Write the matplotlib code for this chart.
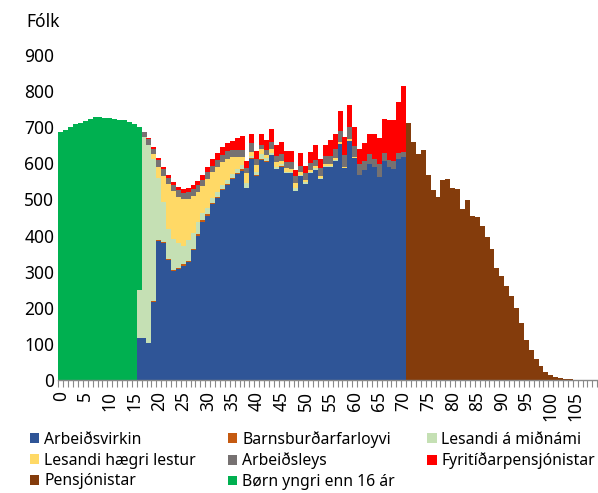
import numpy as np
import matplotlib
matplotlib.use("Agg")
import matplotlib.pyplot as plt
from matplotlib.patches import Patch

plt.rcParams['font.family'] = ['Noto Sans', 'DejaVu Sans']

ages = list(range(0, 110))

# Børn yngri enn 16 ár (ages 0..16)
born = [686, 692, 702, 708, 713, 718, 723, 727, 728, 726, 725, 723, 721, 719, 714, 709, 453]

# ages 16..70
arbeidsvirkin = [115, 115, 103, 217, 386, 380, 332, 303, 307, 317, 326, 360, 400, 438, 455, 487, 503,
                 525, 540, 556, 570, 580, 531, 612, 566, 609, 605, 623, 584, 591, 572, 572, 524, 564,
                 543, 573, 582, 557, 589, 591, 607, 654, 586, 663, 614, 568, 582, 598, 590, 562, 607,
                 590, 584, 611, 617]
barnsburd = [0, 0, 0, 2, 2, 3, 3, 3, 3, 3, 4, 4, 4, 4, 4, 4, 4, 3, 3, 3, 3, 3, 2, 2, 2, 2, 1, 1, 1, 1,
             0, 0, 0, 0, 0, 0, 0, 0, 0, 0, 0, 0, 0, 0, 0, 0, 0, 0, 0, 0, 0, 0, 0, 0, 0]
midnam = [134, 559, 548, 392, 172, 111, 83, 84, 69, 50, 58, 42, 34, 20, 16, 14, 13, 12, 12, 12, 12, 12,
          12, 6, 9, 14, 8, 5, 6, 5, 5, 5, 8, 4, 5, 4, 4, 3, 3, 3, 3, 0, 0, 0, 0, 0, 0, 0, 0, 0, 0,
          0, 0, 0, 0]
haegri = [0, 0, 0, 14, 31, 72, 126, 134, 129, 130, 114, 104, 84, 75, 82, 70, 70, 64, 57, 46, 33, 22,
          28, 12, 18, 14, 8, 10, 12, 10, 10, 8, 14, 8, 6, 5, 6, 6, 5, 5, 5, 6, 5, 5, 4, 0, 0, 0, 0,
          0, 0, 0, 0, 0, 0]
arbeidsleys = [0, 14, 16, 14, 18, 17, 16, 16, 17, 18, 18, 18, 18, 18, 18, 19, 20, 20, 21, 20, 20, 19,
               13, 25, 16, 12, 14, 20, 18, 18, 17, 18, 18, 18, 20, 18, 18, 22, 22, 22, 25, 30, 32,
               32, 30, 30, 25, 28, 22, 35, 22, 20, 22, 18, 15]
fyritid = [0, 0, 2, 5, 7, 8, 8, 9, 10, 10, 11, 12, 12, 13, 15, 17, 18, 21, 23, 26, 33, 40, 21, 24, 24,
           30, 30, 36, 31, 35, 30, 31, 18, 36, 20, 32, 40, 23, 31, 44, 40, 56, 51, 61, 54, 41, 50,
           54, 70, 74, 95, 111, 115, 141, 182]

# ages 71..109
pensjonistar = [713, 658, 626, 638, 569, 526, 508, 554, 558, 531, 528, 473, 499, 454, 452, 427, 397,
                364, 310, 288, 259, 234, 199, 157, 112, 83, 57, 39, 23, 14, 8, 5, 3, 2, 1, 1, 0, 0, 0]

labels = ['Arbeiðsvirkin', 'Barnsburðarfarloyvi', 'Lesandi á miðnámi', 'Lesandi hægri lestur',
          'Arbeiðsleys', 'Fyritíðarpensjónistar', 'Pensjónistar', 'Børn yngri enn 16 ár']
colors = ['#2F5597', '#C55A11', '#C5E0B4', '#FFD966', '#767171', '#FF0000', '#843C0C', '#00B050']

n = len(ages)
def place(vals, start):
    arr = np.zeros(n)
    arr[start:start + len(vals)] = vals
    return arr

series = [place(arbeidsvirkin, 16), place(barnsburd, 16), place(midnam, 16), place(haegri, 16),
          place(arbeidsleys, 16), place(fyritid, 16), place(pensjonistar, 71), place(born, 0)]

fig = plt.figure(figsize=(5.98, 4.93), dpi=100)
ax = fig.add_axes([58.3 / 598, 1 - 380 / 493, 539 / 598, 325 / 493])

x = np.arange(n)
bottom = np.zeros(n)
handles = []
for vals, lab, col in zip(series, labels, colors):
    ax.bar(x, vals, width=1.04, bottom=bottom, color=col, linewidth=0)
    bottom += vals
    handles.append(Patch(facecolor=col, label=lab))

ax.set_xlim(-0.5, n - 0.5)
ax.set_ylim(0, 900)
ax.set_yticks(np.arange(0, 901, 100))
ax.tick_params(axis='y', length=0, labelsize=12.5, pad=3)
for s in ['top', 'right', 'left']:
    ax.spines[s].set_visible(False)
ax.spines['bottom'].set_color('#898989')
ax.spines['bottom'].set_linewidth(1.0)
ax.spines['bottom'].set_zorder(5)

ax.set_xticks(np.arange(-0.5, n, 1.0))
ax.set_xticklabels([])
ax.tick_params(axis='x', which='major', length=5, color='#898989', width=0.8)
ax.set_xticks(np.arange(0, 106, 5), minor=True)
ax.set_xticklabels([str(a) for a in range(0, 106, 5)], minor=True, rotation=90)
ax.tick_params(axis='x', which='minor', length=0, labelsize=12.5, pad=8)

fig.text(26 / 598, 1 - 22 / 493, 'Fólk', fontsize=12.5, va='center', ha='left')

order = [0, 3, 6, 1, 4, 7, 2, 5]
fig.legend([handles[i] for i in order], [labels[i] for i in order], ncol=3,
           loc='upper left', bbox_to_anchor=(30 / 598, 1 - 431 / 493), frameon=False,
           fontsize=11.3, handlelength=0.6, handleheight=0.6, handletextpad=0.3,
           columnspacing=2.05, labelspacing=0.3, borderpad=0, borderaxespad=0)

fig.savefig('out.png', dpi=100)
